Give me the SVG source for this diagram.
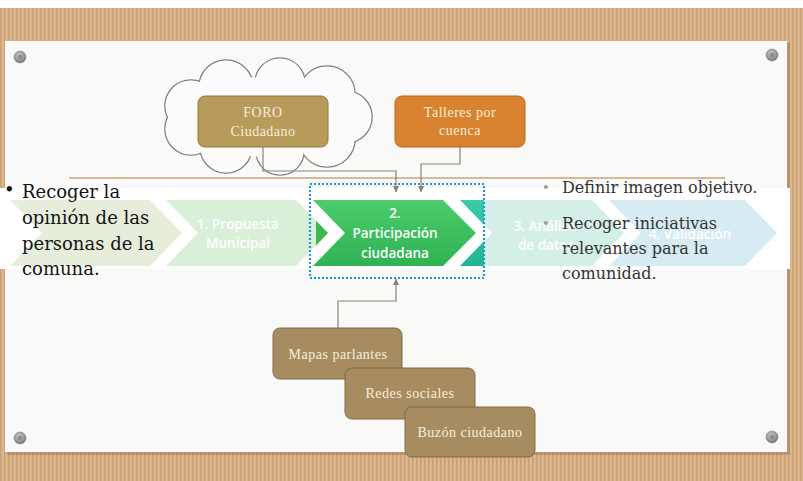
<svg xmlns="http://www.w3.org/2000/svg" width="803" height="481" viewBox="0 0 803 481">
<defs>
<pattern id="cork" width="4" height="10" patternUnits="userSpaceOnUse">
<rect width="4" height="10" fill="#dcb78e"/>
<rect width="1.5" height="10" fill="#c99f73"/>
</pattern>
<marker id="arr" markerWidth="7" markerHeight="7" refX="6" refY="3.5" orient="auto" markerUnits="userSpaceOnUse"><path d="M0,0.5 L6.5,3.5 L0,6.5 z" fill="#8f8070"/></marker>
<clipPath id="hl"><rect x="316" y="180" width="168" height="100"/></clipPath>
<radialGradient id="pin" cx="0.45" cy="0.4" r="0.6">
<stop offset="0" stop-color="#e0e0e0"/><stop offset="0.5" stop-color="#a8a8a8"/><stop offset="1" stop-color="#6e6e6e"/>
</radialGradient>
<linearGradient id="g2" x1="0" y1="0" x2="0" y2="1"><stop offset="0" stop-color="#4ccb6c"/><stop offset="1" stop-color="#2fb352"/></linearGradient>
<linearGradient id="gt" x1="0" y1="0" x2="0" y2="1"><stop offset="0" stop-color="#3ccaa8"/><stop offset="1" stop-color="#22b595"/></linearGradient>
</defs>
<style>
.conn{fill:none;stroke:#8f8070;stroke-width:1.2}
.bt{font-family:"Liberation Serif",serif;font-size:14px;fill:#f7efdc;text-anchor:middle;letter-spacing:0.5px}
.ct{font-family:"Open Sans",sans-serif;font-size:13.5px;font-weight:600;fill:#ffffff;text-anchor:middle}
.lt{font-family:"DejaVu Serif",serif;font-size:18px;fill:#141414}
.rt{font-family:"DejaVu Serif",serif;font-size:16px;fill:#333333}
.pinc{fill:url(#pin);stroke:#8a8a8a;stroke-width:0.6}
.cl{fill:none;stroke:#7d7d7d;stroke-width:1.6}
.cf{fill:#fbfbfb}
</style>

<!-- background -->
<rect x="0" y="0" width="803" height="481" fill="#ffffff"/>
<rect x="0" y="8" width="803" height="473" fill="url(#cork)"/>
<rect x="7" y="43" width="783" height="412" fill="#9c7a55" opacity="0.5"/>
<rect x="5" y="41" width="782" height="411" fill="#f9f9f8"/>
<rect x="0" y="188" width="790" height="81" fill="#ffffff"/>

<!-- pins -->
<g id="pins">
<circle class="pinc" cx="20" cy="57" r="6"/><circle cx="20" cy="57" r="2.5" fill="#8d8d8d"/>
<circle class="pinc" cx="772" cy="55" r="6"/><circle cx="772" cy="55" r="2.5" fill="#8d8d8d"/>
<circle class="pinc" cx="20" cy="438" r="6"/><circle cx="20" cy="438" r="2.5" fill="#8d8d8d"/>
<circle class="pinc" cx="772" cy="437" r="6"/><circle cx="772" cy="437" r="2.5" fill="#8d8d8d"/>
</g>

<!-- cloud -->
<g id="cloud">
<g class="cl">
<circle cx="346" cy="117" r="26"/>
<circle cx="327" cy="94" r="28"/>
<circle cx="280" cy="83" r="25"/>
<circle cx="226" cy="87" r="27"/>
<circle cx="191" cy="106" r="26"/>
<circle cx="191" cy="129" r="26"/>
<circle cx="226" cy="147" r="26"/>
<circle cx="280" cy="151" r="24"/>
<circle cx="327" cy="139" r="28"/>
</g>
<g class="cf">
<circle cx="346" cy="117" r="25.6"/>
<circle cx="327" cy="94" r="27.6"/>
<circle cx="280" cy="83" r="24.6"/>
<circle cx="226" cy="87" r="26.6"/>
<circle cx="191" cy="106" r="25.6"/>
<circle cx="191" cy="129" r="25.6"/>
<circle cx="226" cy="147" r="25.6"/>
<circle cx="280" cy="151" r="23.6"/>
<circle cx="327" cy="139" r="27.6"/>
<ellipse cx="266" cy="117" rx="80" ry="40"/>
</g>
</g>

<!-- long rule -->
<line x1="69" y1="178" x2="725" y2="178" stroke="#c4a47c" stroke-width="1.5"/>

<!-- chevrons -->
<g id="chevron0"><polygon points="10,200 150,200 182,233 150,266 10,266 42,233" fill="#e6eedb"/></g>
<g id="chevron1">
<polygon points="166,200 296,200 328,233 296,266 166,266 198,233" fill="#d9efd8"/>
<polygon points="166,200 296,200 328,233 296,266 166,266 198,233" fill="#3cb84c" clip-path="url(#hl)"/>
<text class="ct" x="238" y="229">1. Propuesta</text>
<text class="ct" x="238" y="248">Municipal</text>
</g>
<g id="chevron2">
<polygon points="313,200 443,200 476,233 443,266 313,266 345,233" fill="url(#g2)"/>
<text class="ct" x="395" y="218">2.</text>
<text class="ct" x="395" y="238">Participación</text>
<text class="ct" x="395" y="258">ciudadana</text>
</g>
<g id="chevron3">
<polygon points="460,200 592,200 624,233 592,266 460,266 492,233" fill="#d4efe8"/>
<polygon points="460,200 592,200 624,233 592,266 460,266 492,233" fill="url(#gt)" clip-path="url(#hl)"/>
<text class="ct" x="546" y="231">3. Análisis</text>
<text class="ct" x="546" y="250">de datos</text>
</g>
<g id="chevron4">
<polygon points="609,200 745,200 777,233 745,266 609,266 641,233" fill="#d6ebf2"/>
<text class="ct" x="690" y="239">4. Validación</text>
</g>

<!-- selection box -->
<rect x="310" y="184" width="174" height="94" fill="none" stroke="#1e9ad6" stroke-width="2.2" stroke-dasharray="2 2"/>

<!-- connectors -->
<g id="connectors">
<path class="conn" d="M263,147 V171 H396 V192" marker-end="url(#arr)"/>
<path class="conn" d="M460,147 V164 H421 V192" marker-end="url(#arr)"/>
<path class="conn" d="M338,328 V301 H396 V279" marker-end="url(#arr)"/>
</g>

<!-- top nodes -->
<g id="foro">
<rect x="198" y="96" width="130" height="51" rx="7" fill="#b89a5b" stroke="#92793f" stroke-width="1"/>
<text class="bt" x="263" y="117">FORO</text>
<text class="bt" x="263" y="136">Ciudadano</text>
</g>
<g id="talleres">
<rect x="395" y="96" width="130" height="51" rx="7" fill="#d9822f" stroke="#b4651f" stroke-width="1"/>
<text class="bt" x="460" y="117">Talleres por</text>
<text class="bt" x="460" y="135">cuenca</text>
</g>

<!-- bottom nodes -->
<g id="mapas">
<rect x="273" y="328" width="129" height="51" rx="7" fill="#a68c60" stroke="#7f6a47" stroke-width="1"/>
<text class="bt" x="338" y="359">Mapas parlantes</text>
</g>
<g id="redes">
<rect x="345" y="368" width="130" height="51" rx="7" fill="#a68c60" stroke="#7f6a47" stroke-width="1"/>
<text class="bt" x="410" y="398">Redes sociales</text>
</g>
<g id="buzon">
<rect x="405" y="407" width="130" height="50" rx="7" fill="#a68c60" stroke="#7f6a47" stroke-width="1"/>
<text class="bt" x="470" y="437">Buzón ciudadano</text>
</g>

<!-- left text -->
<g id="left-text">
<text class="lt" x="4" y="196">•</text>
<text class="lt" x="22" y="198">Recoger la</text>
<text class="lt" x="22" y="224">opinión de las</text>
<text class="lt" x="22" y="250">personas de la</text>
<text class="lt" x="22" y="275">comuna.</text>
</g>

<!-- right text -->
<g id="right-text">
<text x="542" y="192" font-family="DejaVu Serif,serif" font-size="13" fill="#a39684">•</text>
<text class="rt" x="562" y="193">Definir imagen objetivo.</text>
<text x="542" y="228" font-family="DejaVu Serif,serif" font-size="13" fill="#a39684">•</text>
<text class="rt" x="562" y="229">Recoger iniciativas</text>
<text class="rt" x="562" y="254">relevantes para la</text>
<text class="rt" x="562" y="279">comunidad.</text>
</g>
</svg>
